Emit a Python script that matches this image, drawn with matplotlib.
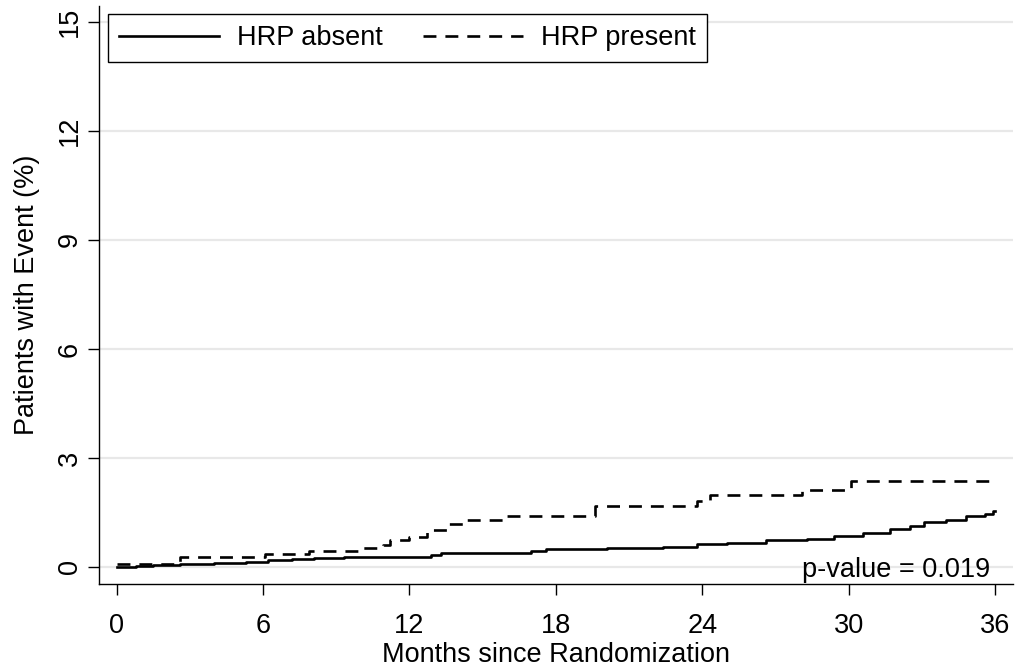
import matplotlib
matplotlib.use("Agg")
import matplotlib.pyplot as plt

plt.rcParams['font.family'] = ['Liberation Sans', 'DejaVu Sans']

# cumulative incidence, step curves (months, %)
absent_t = [0, 0.8, 1.5, 2.6, 4.0, 5.3, 6.2, 7.2, 8.1, 9.3, 10.5, 12.9, 13.3, 16.1, 17.0,
            17.6, 20.1, 22.4, 23.8, 25.0, 26.6, 28.3, 29.4, 30.6, 31.7, 32.5, 33.1, 34.0,
            34.8, 35.6, 35.9, 36]
absent_v = [0.0, 0.02, 0.05, 0.09, 0.11, 0.14, 0.20, 0.22, 0.24, 0.26, 0.28, 0.33, 0.37, 0.39,
            0.45, 0.48, 0.51, 0.55, 0.62, 0.66, 0.75, 0.78, 0.85, 0.94, 1.03, 1.12, 1.24, 1.30,
            1.40, 1.45, 1.53, 1.53]

present_t = [0, 2.6, 6.1, 7.9, 9.9, 10.9, 11.2, 12.0, 12.7, 13.6, 14.3, 15.9, 19.6, 23.8,
             24.3, 28.1, 30.1, 36]
present_v = [0.09, 0.26, 0.35, 0.44, 0.53, 0.60, 0.73, 0.81, 1.01, 1.19, 1.30, 1.41, 1.67,
             1.81, 1.97, 2.13, 2.37, 2.37]

x_ticks = [0, 6, 12, 18, 24, 30, 36]
y_ticks = [0, 3, 6, 9, 12, 15]
fs = 19.5

fig = plt.figure(figsize=(10.18, 6.71), dpi=100)
ax = fig.add_axes([0.0977, 0.1297, 0.8974, 0.8613])

for y in y_ticks:
    ax.axhline(y, color='#e8e8e8', lw=1.6, zorder=0)

ax.step(absent_t, absent_v, where='post', color='black', lw=1.9, label='HRP absent')
ax.step(present_t, present_v, where='post', color='black', lw=1.9,
        linestyle=(0, (4.9, 3.4)), label='HRP present')

ax.set_xlim(-0.70, 36.73)
ax.set_ylim(-0.47, 15.44)
ax.set_xticks(x_ticks)
ax.set_yticks(y_ticks)
ax.set_yticklabels([str(v) for v in y_ticks], rotation=90, va='center')
ax.tick_params(axis='both', direction='out', length=8, width=1, labelsize=fs)
ax.tick_params(axis='x', pad=13)
ax.tick_params(axis='y', pad=4)

for s in ['top', 'right']:
    ax.spines[s].set_visible(False)
for s in ['left', 'bottom']:
    ax.spines[s].set_linewidth(1)

ax.set_xlabel('Months since Randomization', fontsize=fs, labelpad=2)
ax.set_ylabel('Patients with Event (%)', fontsize=fs, labelpad=12)

ax.text(35.8, -0.27, 'p-value = 0.019', fontsize=fs, ha='right', va='baseline')

leg = ax.legend(loc='upper left', bbox_to_anchor=(0.0096, 0.9856), borderaxespad=0,
                ncol=2, fontsize=fs, frameon=True, fancybox=False, handlelength=3.7,
                handletextpad=0.65, columnspacing=1.5, borderpad=0.4)
leg.get_frame().set_edgecolor('black')
leg.get_frame().set_linewidth(1)
leg.get_frame().set_alpha(1)

fig.savefig('out.png', dpi=100)
